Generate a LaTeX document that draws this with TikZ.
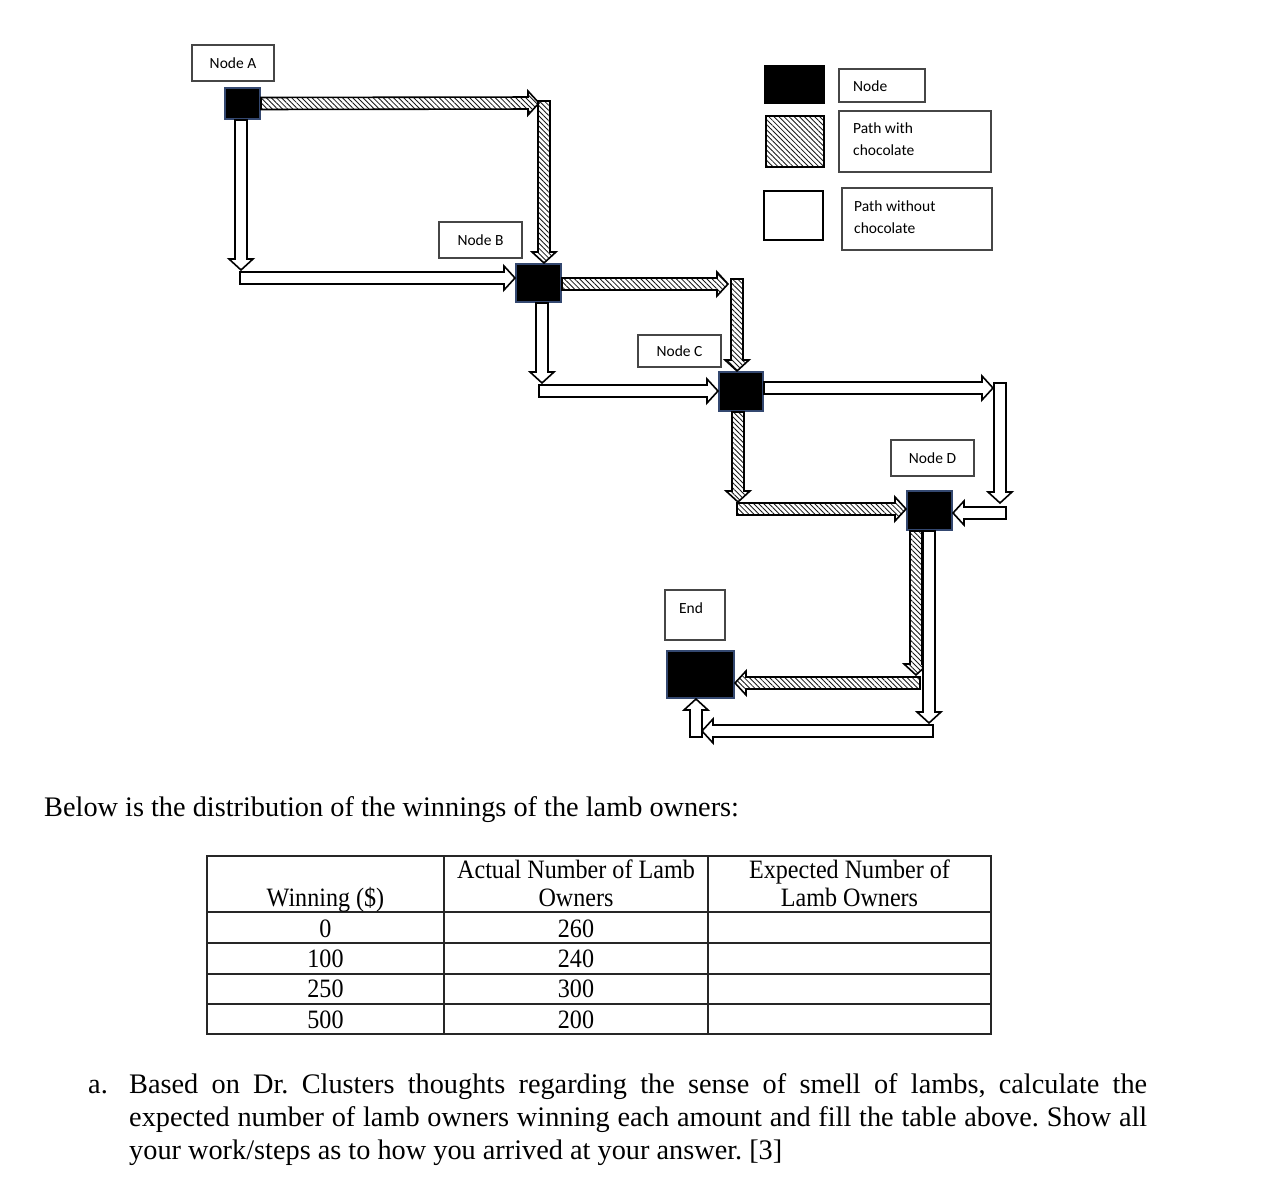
\documentclass[tikz,border=0pt]{standalone}
\usepackage{fontspec}
\setmainfont{Liberation Serif}
\newfontfamily\lblfont{Carlito}
\newfontfamily\tabfont[FakeStretch=0.91]{Liberation Serif}
\usetikzlibrary{patterns.meta,calc}
\definecolor{navy}{RGB}{52,72,112}
\definecolor{boxgray}{RGB}{70,70,70}
\frenchspacing
\tikzset{
  nodesq/.style={draw=navy,line width=2pt,fill=black,inner sep=0pt},
  lblbox/.style={draw=boxgray,line width=1.2pt,fill=white,inner sep=0pt,font=\lblfont\fontsize{15.5}{18}\selectfont},
  choc/.style={draw=black,line width=1.6pt,line join=miter,pattern={Lines[angle=-45,distance=3.6pt,line width=0.85pt]},pattern color=black!90},
  plain/.style={draw=black,line width=1.6pt,line join=miter,fill=white},
  serif/.style={inner sep=0pt,font=\fontsize{28.3}{32.5}\selectfont},
  tabtxt/.style={inner sep=0pt,font=\tabfont\fontsize{26.5}{28}\selectfont},
  tline/.style={draw=black!85,line width=1.3pt}
}
% block arrow from #2 to #3 with style #1
\newcommand\blk[3]{%
  \path let \p1=(#2), \p2=(#3), \n1={atan2(\y2-\y1,\x2-\x1)}, \n2={veclen(\x2-\x1,\y2-\y1)} in
    \pgfextra{\xdef\blkang{\n1}\xdef\blklen{\n2}};
  \begin{scope}[shift={(#2)},rotate=\blkang]
    \draw[#1] (0pt,-6pt) -- ({\blklen-11pt},-6pt) -- ({\blklen-11pt},-12pt) -- ({\blklen},0pt)
      -- ({\blklen-11pt},12pt) -- ({\blklen-11pt},6pt) -- (0pt,6pt) -- cycle;
  \end{scope}}
\begin{document}
\begin{tikzpicture}[x=1pt,y=-1pt]
\useasboundingbox (0,0) rectangle (1280,1196);
\fill[white] (0,0) rectangle (1280,1196);

% ---- nodes (black squares)
\node[nodesq,minimum width=35pt,minimum height=31pt] (nA) at (242.5,103.5) {};
\node[nodesq,minimum width=45pt,minimum height=38pt] (nB) at (538.5,283) {};
\node[nodesq,minimum width=44pt,minimum height=39pt] (nC) at (741,391.5) {};
\node[nodesq,minimum width=45pt,minimum height=39pt] (nD) at (929.5,510.5) {};
\node[nodesq,minimum width=67pt,minimum height=47pt] (nE) at (700.5,674.5) {};

% ---- labels
\node[lblbox,minimum width=82pt,minimum height=36pt] (lA) at (233,63) {Node A};
\node[lblbox,minimum width=83pt,minimum height=36pt] (lB) at (480.5,240) {Node B};
\node[lblbox,minimum width=83pt,minimum height=32pt] (lC) at (679.5,351) {Node C};
\node[lblbox,minimum width=83pt,minimum height=36pt] (lD) at (932.5,458) {Node D};
\node[lblbox,minimum width=60pt,minimum height=50pt] (lE) at (695,615) {};
\node[inner sep=0pt,font=\lblfont\fontsize{15.5}{18}\selectfont] (lEt) at (691,608) {End};

% ---- legend
\node[nodesq,draw=black,minimum width=59pt,minimum height=37pt] (gN) at (794.5,84.5) {};
\node[lblbox,minimum width=86pt,minimum height=33pt] (gNb) at (882,85.5) {};
\node[inner sep=0pt,anchor=west,font=\lblfont\fontsize{15.5}{18}\selectfont] (gNt) at (853,86) {Node};
\path[choc,line width=2.6pt] (766,116) rectangle (824,167);
\node[inner sep=0pt,minimum width=58pt,minimum height=51pt] (gC) at (795,141.5) {};
\node[lblbox,minimum width=152pt,minimum height=61pt] (gCb) at (915,141.5) {};
\node[inner sep=0pt,anchor=north west,align=left,font=\lblfont\fontsize{15.5}{22}\selectfont] (gCt) at (853,123) {Path with\\chocolate};
\node[draw=black,line width=2.6pt,fill=white,minimum width=59pt,minimum height=49pt,inner sep=0pt] (gW) at (793.5,215.5) {};
\node[lblbox,minimum width=150pt,minimum height=62pt] (gWb) at (917,219) {};
\node[inner sep=0pt,anchor=north west,align=left,font=\lblfont\fontsize{15.5}{22}\selectfont] (gWt) at (854,201) {Path without\\chocolate};

% ---- coordinates for arrow corners / free ends
\coordinate (a1) at (539,103);
\coordinate (a2) at (544,101);
\coordinate (a3) at (241,270);
\coordinate (a4) at (240,278);
\coordinate (b1) at (728,284);
\coordinate (b2) at (737,279);
\coordinate (b3) at (542,383);
\coordinate (b4) at (539,391);
\coordinate (c1) at (993,388);
\coordinate (c2) at (1000,383);
\coordinate (c2e) at (1000,503);
\coordinate (c3) at (1006,513);
\coordinate (c4) at (738,502);
\coordinate (c5) at (737,509);
\coordinate (d1) at (916,675);
\coordinate (d2) at (920,683);
\coordinate (d3) at (929,723);
\coordinate (d4) at (933,731);
\coordinate (d5) at (702,731);
\coordinate (d6) at (696,737);

% ---- arrows
\blk{choc}{nA.east}{a1}
\blk{choc}{a2}{a2 |- nB.north}
\blk{plain}{nA.south -| a3}{a3}
\blk{plain}{a4}{a4 -| nB.west}

\blk{choc}{nB.east |- b1}{b1}
\blk{choc}{b2}{b2 |- nC.north}
\blk{plain}{nB.south -| b3}{b3}
\blk{plain}{b4}{b4 -| nC.west}

\blk{plain}{nC.east |- c1}{c1}
\blk{plain}{c2}{c2e}
\blk{plain}{c3}{c3 -| nD.east}
\blk{choc}{nC.south -| c4}{c4}
\blk{choc}{c5}{c5 -| nD.west}

\blk{choc}{nD.south -| d1}{d1}
\blk{choc}{d2}{d2 -| nE.east}
\blk{plain}{nD.south -| d3}{d3}
\blk{plain}{d4}{d5}
\blk{plain}{d6}{d6 |- nE.south}

% ---- text
\node[serif,anchor=base west] (below) at (44,816) {Below is the distribution of the winnings of the lamb owners:};

% ---- table
\draw[tline] (207,856) rectangle (991,1034);
\draw[tline] (207,912) -- (991,912);
\draw[tline] (207,943) -- (991,943);
\draw[tline] (207,974) -- (991,974);
\draw[tline] (207,1004) -- (991,1004);
\draw[tline] (444,856) -- (444,1034);
\draw[tline] (708,856) -- (708,1034);

\node[tabtxt,anchor=base] (h1) at (325.5,906) {Winning (\$)};
\node[tabtxt,anchor=base] (h2a) at (576,878) {Actual Number of Lamb};
\node[tabtxt,anchor=base] (h2b) at (576,906) {Owners};
\node[tabtxt,anchor=base] (h3a) at (849.5,878) {Expected Number of};
\node[tabtxt,anchor=base] (h3b) at (849.5,906) {Lamb Owners};
\node[tabtxt,anchor=base] (r1a) at (325.5,937) {0};
\node[tabtxt,anchor=base] (r1b) at (576,937) {260};
\node[tabtxt,anchor=base] (r2a) at (325.5,967) {100};
\node[tabtxt,anchor=base] (r2b) at (576,967) {240};
\node[tabtxt,anchor=base] (r3a) at (325.5,997) {250};
\node[tabtxt,anchor=base] (r3b) at (576,997) {300};
\node[tabtxt,anchor=base] (r4a) at (325.5,1028) {500};
\node[tabtxt,anchor=base] (r4b) at (576,1028) {200};

% ---- question
\node[serif,anchor=base west] (qa) at (88,1093) {a.};
\node[serif,anchor=base west] (q1) at (129,1093) {\makebox[1018pt][s]{Based on Dr. Clusters thoughts regarding the sense of smell of lambs, calculate the}};
\node[serif,anchor=base west] (q2) at (129,1126) {\makebox[1018pt][s]{expected number of lamb owners winning each amount and fill the table above. Show all}};
\node[serif,anchor=base west] (q3) at (129,1159) {your work/steps as to how you arrived at your answer. [3]};
\end{tikzpicture}
\end{document}
